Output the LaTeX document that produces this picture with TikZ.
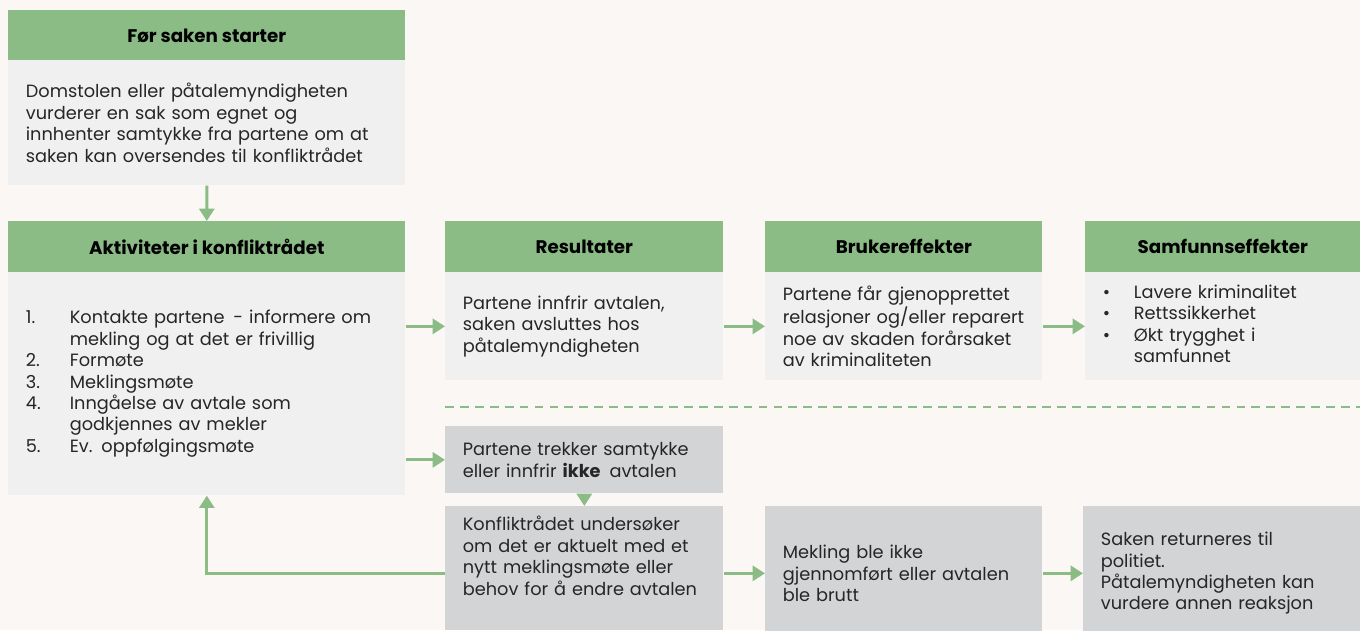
\documentclass[tikz,border=0pt]{standalone}
\usepackage{fontspec}
\setmainfont{Poppins}
\usetikzlibrary{arrows.meta}

\definecolor{bgcream}{HTML}{FAF7F4}
\definecolor{headgreen}{HTML}{8BBC86}
\definecolor{bodygray}{HTML}{F0F0F0}
\definecolor{boxgray}{HTML}{D3D4D6}
\definecolor{textdark}{HTML}{262626}

\newcommand\bodyfont{\fontsize{10.1}{12.2}\selectfont}
\newcommand\headfont{\fontsize{10.4}{12}\selectfont\bfseries}

\tikzset{
    hdr/.style={fill=headgreen, anchor=north west, inner sep=0pt,
        minimum height=1.02cm, font=\headfont, text=black},
    bodybox/.style={fill=bodygray, anchor=north west, align=left,
        inner xsep=0.35cm, inner ysep=0pt, font=\bodyfont, text=textdark},
    graybox/.style={bodybox, fill=boxgray},
    flow/.style={-{Triangle[length=7pt,width=8.5pt]}, line width=1.7pt, draw=headgreen},
}

\begin{document}
\begin{tikzpicture}[x=0.02cm, y=-0.02cm]
\fill[bgcream] (0,0) rectangle (1360,630);
\useasboundingbox (0,0) rectangle (1360,630);

% left column
\node[hdr, minimum width=7.94cm] (forhead) at (8,10) {Før saken starter};
\node[bodybox, minimum width=7.94cm, text width=7.24cm, minimum height=2.5cm] (forbody) at (8,60)
    {Domstolen eller påtalemyndigheten\\ vurderer en sak som egnet og\\
     innhenter samtykke fra partene om at\\ saken kan oversendes til konfliktrådet};

\node[hdr, minimum width=7.94cm] (akthead) at (8,221) {Aktiviteter i konfliktrådet};
\node[bodybox, minimum width=7.94cm, text width=7.24cm, minimum height=4.46cm] (aktbody) at (8,272)
    {\begin{tabular}{@{}p{0.88cm}@{}p{6.3cm}@{}}
     1. & Kontakte partene\, - informere om mekling og at det er frivillig\\
     2. & Formøte\\
     3. & Meklingsmøte\\
     4. & Inngåelse av avtale som\newline godkjennes av mekler\\
     5. & Ev. oppfølgingsmøte
     \end{tabular}};

% upper row: outcomes
\node[hdr, minimum width=5.56cm] (reshead) at (445,221) {Resultater};
\node[bodybox, minimum width=5.56cm, text width=4.86cm, minimum height=2.16cm] (resbody) at (445,272)
    {Partene innfrir avtalen,\\ saken avsluttes hos\\ påtalemyndigheten};

\node[hdr, minimum width=5.54cm] (brukhead) at (765,221) {Brukereffekter};
\node[bodybox, minimum width=5.54cm, text width=4.84cm, minimum height=2.16cm] (brukbody) at (765,272)
    {Partene får gjenopprettet\\ relasjoner og/eller reparert\\ noe av skaden forårsaket\\ av kriminaliteten};

\node[hdr, minimum width=5.5cm] (samfhead) at (1085,221) {Samfunnseffekter};
\node[bodybox, minimum width=5.5cm, text width=4.8cm, minimum height=2.16cm] (samfbody) at (1085,272)
    {\begin{tabular}{@{}p{0.62cm}@{}p{4.1cm}@{}}
     • & Lavere kriminalitet\\
     • & Rettssikkerhet\\
     • & Økt trygghet i\newline samfunnet
     \end{tabular}};

\draw[headgreen, line width=1.1pt, dash pattern=on 5pt off 3.5pt] (445,407) -- (1360,407);

% lower row: when it fails
\node[graybox, minimum width=5.56cm, text width=4.86cm, minimum height=1.34cm] (trekk) at (445,426)
    {Partene trekker samtykke\\ eller innfrir \textbf{ikke}\, avtalen};
\node[graybox, minimum width=5.56cm, text width=4.86cm, inner ysep=0.2cm] (undersok) at (445,506)
    {\parbox[c][2.08cm][t]{4.86cm}{Konfliktrådet undersøker\\ om det er aktuelt med et\\
     nytt meklingsmøte eller\\ behov for å endre avtalen}};
\node[graybox, minimum width=5.54cm, text width=4.84cm, minimum height=2.68cm] (brutt) at (765,506)
    {Mekling ble ikke\\ gjennomført eller avtalen\\ ble brutt};
\node[graybox, minimum width=5.54cm, text width=4.84cm, minimum height=2.68cm] (retur) at (1083,506)
    {Saken returneres til\\ politiet.\\ Påtalemyndigheten kan\\ vurdere annen reaksjon};

% connectors
\draw[flow] (forbody) -- (akthead);
\draw[flow] (aktbody.east |- resbody.west) -- (resbody.west);
\draw[flow] (resbody) -- (brukbody);
\draw[flow] (brukbody) -- (samfbody);
\draw[flow] (aktbody.east |- trekk.west) -- (trekk.west);
\draw[flow] (trekk) -- (undersok);
\draw[flow] (undersok.east |- brutt.west) -- (brutt.west);
\draw[flow] (brutt) -- (retur);
\draw[flow] (undersok.west |- brutt.west) -| (aktbody.south);
\end{tikzpicture}
\end{document}
